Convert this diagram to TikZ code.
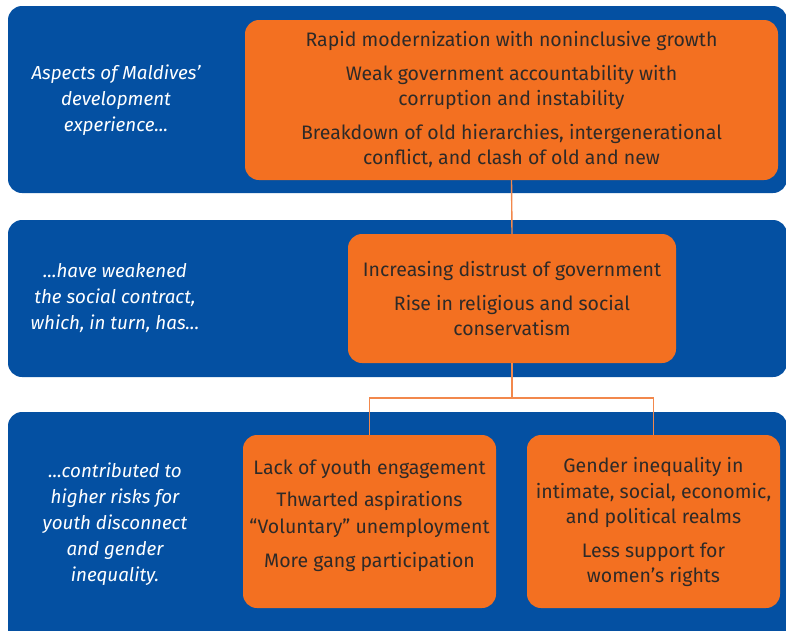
\documentclass[tikz,border=0pt]{standalone}
\usepackage{fontspec}
\setmainfont{Fira Sans}
\definecolor{bandblue}{HTML}{0450A2}
\definecolor{boxorange}{HTML}{F37021}
\definecolor{linkorange}{HTML}{F2884C}
\definecolor{txt}{HTML}{2E2A28}
\begin{document}
\begin{tikzpicture}[x=1pt,y=-1pt,
  band/.style={fill=bandblue, rounded corners=14pt},
  obox/.style={fill=boxorange, rounded corners=14pt, text=txt, align=center,
    font=\fontsize{19.5}{25}\selectfont, inner sep=0pt},
  side/.style={text=white, align=center, font=\itshape\fontsize{18.8}{26}\selectfont},
  link/.style={draw=linkorange, line width=1.4pt}]
\useasboundingbox (0,0) rectangle (786,630);
\clip (0,0) rectangle (786,630);
\fill[band] (8,6) rectangle (787,193);
\fill[band] (8,220) rectangle (787,377);
\fill[band] (8,412) rectangle (787,650);

\node[side] (s1) at (116,100) {Aspects of Maldives’\\ development\\ experience...};
\node[side] (s2) at (115,298) {...have weakened\\ the social contract,\\ which, in turn, has...};
\node[side] (s3) at (115,524) {...contributed to\\ higher risks for\\ youth disconnect\\ and gender\\ inequality.};

\node[obox, minimum width=533pt, minimum height=160pt] (b1) at (511.5,100)
  {Rapid modernization with noninclusive growth\\[9pt]
   Weak government accountability with\\ corruption and instability\\[9pt]
   Breakdown of old hierarchies, intergenerational\\ conflict, and clash of old and new};
\node[obox, minimum width=328pt, minimum height=129pt] (b2) at (512,298.5)
  {Increasing distrust of government\\[9pt]
   Rise in religious and social\\ conservatism};
\node[obox, minimum width=253pt, minimum height=173pt] (b3) at (369.5,521.5)
  {Lack of youth engagement\\[7pt]
   Thwarted aspirations\\[2pt] “Voluntary” unemployment\\[9pt]
   More gang participation\\[-9pt]\mbox{}};
\node[obox, minimum width=253pt, minimum height=173pt] (b4) at (653.5,521.5)
  {Gender inequality in\\[1pt] intimate, social, economic,\\ and political realms\\[9pt]
   Less support for\\ women’s rights};

\coordinate (j) at (512,398);
\draw[link] (b1.south) -- (b2.north);
\draw[link] (b2.south) -- (j);
\draw[link] (b3.north) |- (j) -| (b4.north);
\end{tikzpicture}
\end{document}
